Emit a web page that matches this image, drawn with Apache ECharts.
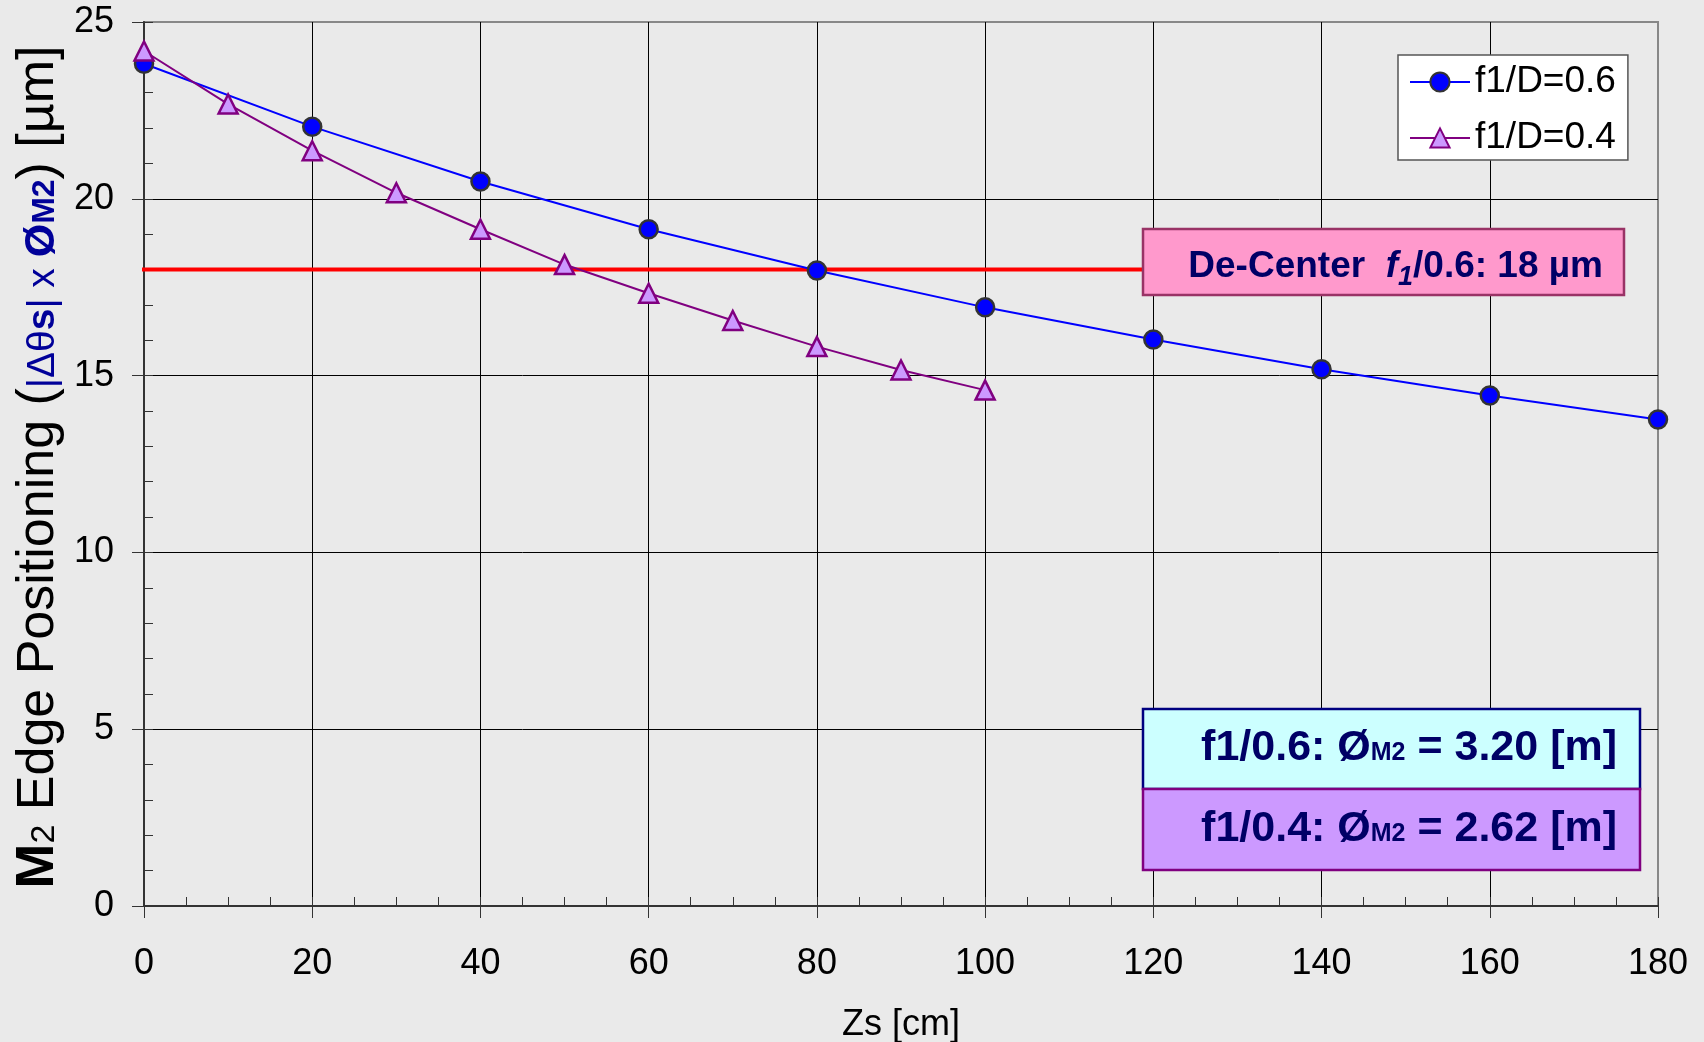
<!DOCTYPE html>
<html>
<head>
<meta charset="utf-8">
<title>M2 Edge Positioning</title>
<script src="https://cdn.jsdelivr.net/npm/echarts@6/dist/echarts.min.js"></script>
<style>
    html, body { margin: 0; padding: 0; background: #eaeaea; }
    #chart { width: 1704px; height: 1042px; }
</style>
</head>
<body>
<div id="chart"></div>
<script>
// 数据
const zsBlue = [0, 20, 40, 60, 80, 100, 120, 140, 160, 180];
const edgeBlue = [23.82, 22.04, 20.49, 19.14, 17.97, 16.93, 16.02, 15.18, 14.44, 13.76];
const zsPurple = [0, 10, 20, 30, 40, 50, 60, 70, 80, 90, 100];
const edgePurple = [24.18, 22.68, 21.36, 20.17, 19.14, 18.14, 17.33, 16.56, 15.82, 15.16, 14.59];
const seriesNames = ['f1/D=0.6', 'f1/D=0.4'];
const decenterLimit = 18;
const limitSpan = [-1, 120];

const FONT = "'Liberation Sans', Arial, sans-serif";
const NAVY = '#000066';

const zip = (xs, ys) => xs.map((x, i) => [x, ys[i]]);

const chart = echarts.init(document.getElementById('chart'));

const option = {
    animation: false,
    backgroundColor: '#eaeaea',
    textStyle: { fontFamily: FONT },
    grid: {
        left: 144, right: 46, top: 22, bottom: 136,
        show: true, borderColor: '#888', borderWidth: 2, backgroundColor: 'transparent'
    },
    legend: {
        data: seriesNames,
        orient: 'vertical',
        left: 1398, top: 55,
        backgroundColor: '#fff',
        borderColor: '#555', borderWidth: 1.5,
        padding: [7, 12, 2, 11],
        itemWidth: 60, itemHeight: 24, itemGap: 16,
        textStyle: { fontFamily: FONT, fontSize: 37, color: '#000', lineHeight: 40 },
        z: 20
    },
    xAxis: [{
        type: 'value', min: 0, max: 180, interval: 20, position: 'bottom',
        axisLine: { show: true, onZero: false, lineStyle: { color: '#333', width: 2 } },
        axisTick: { show: true, length: 12, lineStyle: { color: '#333', width: 1 } },
        axisLabel: { fontFamily: FONT, fontSize: 36, color: '#000', margin: 40 },
        splitLine: { show: true, showMinLine: false, showMaxLine: false, lineStyle: { color: '#000', width: 1 } }
    }, {
        // 次刻度 (朝内)
        type: 'value', min: 0, max: 180, interval: 5, position: 'bottom', offset: 0,
        axisLine: { show: false },
        axisTick: { show: true, inside: true, length: 9, lineStyle: { color: '#333', width: 1 } },
        axisLabel: { show: false },
        splitLine: { show: false }
    }],
    yAxis: [{
        type: 'value', min: 0, max: 25, interval: 5, position: 'left',
        axisLine: { show: true, onZero: false, lineStyle: { color: '#333', width: 2 } },
        axisTick: { show: true, length: 12, lineStyle: { color: '#333', width: 1 } },
        axisLabel: { fontFamily: FONT, fontSize: 36, color: '#000', margin: 30 },
        splitLine: { show: true, showMinLine: false, showMaxLine: false, lineStyle: { color: '#000', width: 1 } }
    }, {
        type: 'value', min: 0, max: 25, interval: 1, position: 'left', offset: 0,
        axisLine: { show: false },
        axisTick: { show: true, inside: true, length: 9, lineStyle: { color: '#333', width: 1 } },
        axisLabel: { show: false },
        splitLine: { show: false }
    }],
    series: [{
        // 红色 De-Center 限值线
        name: 'limit',
        type: 'line',
        data: limitSpan.map(x => [x, decenterLimit]),
        clip: false,
        symbol: 'none',
        silent: true,
        lineStyle: { color: '#ff0000', width: 4 },
        z: 2
    }, {
        name: seriesNames[0],
        type: 'line',
        data: zip(zsBlue, edgeBlue),
        symbol: 'circle',
        symbolSize: 18,
        lineStyle: { color: '#0000ff', width: 2 },
        itemStyle: { color: '#0000ff', borderColor: '#333', borderWidth: 2.5 },
        z: 3
    }, {
        name: seriesNames[1],
        type: 'line',
        data: zip(zsPurple, edgePurple),
        symbol: 'triangle',
        symbolSize: 19,
        lineStyle: { color: '#800080', width: 2 },
        itemStyle: { color: '#cc99ff', borderColor: '#800080', borderWidth: 2.5 },
        z: 4
    }],
    graphic: [
        // y 轴标题
        {
            type: 'text',
            x: 38, y: 467,
            rotation: Math.PI / 2,
            style: {
                text: '{m|M}{s2|2}{r| Edge Positioning (}{b|\u007c\u0394\u03b8}{bs|s}{b|\u007c x }{o|\u00d8}{om|M2}{r|) [\u00b5m]}',
                textAlign: 'center', textVerticalAlign: 'middle',
                rich: {
                    m: { fontFamily: FONT, fontSize: 54, fontWeight: 'bold', fill: '#000', lineHeight: 54, verticalAlign: 'bottom' },
                    s2: { fontFamily: FONT, fontSize: 34, fill: '#000', lineHeight: 34, padding: [0, 0, 3.6, 0], verticalAlign: 'bottom' },
                    r: { fontFamily: FONT, fontSize: 52, fill: '#000', lineHeight: 52, verticalAlign: 'bottom' },
                    b: { fontFamily: FONT, fontSize: 39, fill: '#000099', lineHeight: 39, padding: [0, 0, 2.6, 0], verticalAlign: 'bottom' },
                    bs: { fontFamily: FONT, fontSize: 39, fontWeight: 'bold', fill: '#000099', lineHeight: 39, padding: [0, 0, 2.6, 0], verticalAlign: 'bottom' },
                    o: { fontFamily: FONT, fontSize: 43, fontWeight: 'bold', fill: '#000099', lineHeight: 43, padding: [0, 0, 1.8, 0], verticalAlign: 'bottom' },
                    om: { fontFamily: FONT, fontSize: 32, fontWeight: 'bold', fill: '#000099', lineHeight: 32, padding: [0, 0, 4, 0], verticalAlign: 'bottom' }
                }
            },
            z: 10
        },
        // x 轴标题
        {
            type: 'text',
            x: 901, y: 1025,
            style: {
                text: 'Zs [cm]', fontFamily: FONT, fontSize: 36, fill: '#000',
                textAlign: 'center', textVerticalAlign: 'middle'
            },
            z: 10
        },
        // De-Center 标注
        {
            type: 'rect',
            shape: { x: 1143, y: 229, width: 481, height: 66 },
            style: { fill: '#ff99cc', stroke: '#993366', lineWidth: 2.5 },
            z: 10
        },
        {
            type: 'text',
            x: 1603, y: 275,
            style: {
                text: '{t|De-Center  }{i|f}{sub|1}{t|/0.6: 18 \u00b5m}',
                textAlign: 'right', textVerticalAlign: 'middle',
                rich: {
                    t: { fontFamily: FONT, fontSize: 37, fontWeight: 'bold', fill: NAVY, lineHeight: 37, padding: [0, 0, 8, 0], verticalAlign: 'bottom' },
                    i: { fontFamily: FONT, fontSize: 37, fontWeight: 'bold', fontStyle: 'italic', fill: NAVY, lineHeight: 37, padding: [0, 0, 8, 0], verticalAlign: 'bottom' },
                    sub: { fontFamily: FONT, fontSize: 27, fontWeight: 'bold', fontStyle: 'italic', fill: NAVY, lineHeight: 27, padding: [0, 0, 2, 0], verticalAlign: 'bottom' }
                }
            },
            z: 11
        },
        // 直径标注
        {
            type: 'rect',
            shape: { x: 1143, y: 709, width: 497, height: 80 },
            style: { fill: '#ccffff', stroke: '#000080', lineWidth: 2.5 },
            z: 10
        },
        {
            type: 'rect',
            shape: { x: 1143, y: 789, width: 497, height: 81 },
            style: { fill: '#cc99ff', stroke: '#800080', lineWidth: 2.5 },
            z: 10
        },
        {
            type: 'text',
            x: 1617, y: 748,
            style: {
                text: '{t|f1/0.6: \u00d8}{s|M2}{t| = 3.20 [m]}',
                textAlign: 'right', textVerticalAlign: 'middle',
                rich: {
                    t: { fontFamily: FONT, fontSize: 43, fontWeight: 'bold', fill: NAVY, lineHeight: 43, verticalAlign: 'bottom' },
                    s: { fontFamily: FONT, fontSize: 25, fontWeight: 'bold', fill: NAVY, lineHeight: 25, padding: [0, 0, 3.6, 0], verticalAlign: 'bottom' }
                }
            },
            z: 11
        },
        {
            type: 'text',
            x: 1617, y: 829,
            style: {
                text: '{t|f1/0.4: \u00d8}{s|M2}{t| = 2.62 [m]}',
                textAlign: 'right', textVerticalAlign: 'middle',
                rich: {
                    t: { fontFamily: FONT, fontSize: 43, fontWeight: 'bold', fill: NAVY, lineHeight: 43, verticalAlign: 'bottom' },
                    s: { fontFamily: FONT, fontSize: 25, fontWeight: 'bold', fill: NAVY, lineHeight: 25, padding: [0, 0, 3.6, 0], verticalAlign: 'bottom' }
                }
            },
            z: 11
        }
    ]
};

chart.setOption(option);
window.addEventListener('resize', () => chart.resize());
</script>
</body>
</html>
